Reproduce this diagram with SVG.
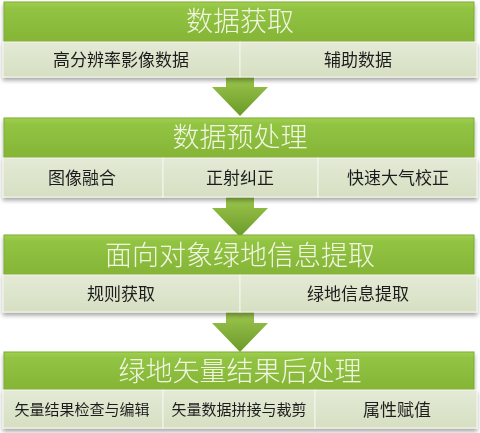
<svg xmlns="http://www.w3.org/2000/svg" width="480" height="433" viewBox="0 0 480 433">
<defs>
<linearGradient id="hdr" x1="0" y1="0" x2="0" y2="1">
<stop offset="0" stop-color="#a2cf52"/>
<stop offset="0.15" stop-color="#92c443"/>
<stop offset="1" stop-color="#85b436"/>
</linearGradient>
<linearGradient id="sub" x1="0" y1="0" x2="0" y2="1">
<stop offset="0" stop-color="#e4ead6"/>
<stop offset="1" stop-color="#d6dfc2"/>
</linearGradient>
<linearGradient id="arr" x1="0" y1="0" x2="0" y2="1">
<stop offset="0" stop-color="#9cc64e"/>
<stop offset="1" stop-color="#6b9a28"/>
</linearGradient>
<filter id="sh" x="-5%" y="-20%" width="110%" height="150%">
<feGaussianBlur in="SourceAlpha" stdDeviation="2"/>
<feOffset dy="3" result="b"/>
<feComponentTransfer><feFuncA type="linear" slope="0.35"/></feComponentTransfer>
<feMerge><feMergeNode/><feMergeNode in="SourceGraphic"/></feMerge>
</filter>
<path id="arrow" d="M226,0 H254 V11 H268 L240,40 L212,11 H226 Z"/>
</defs>
<style>
.hdr{fill:url(#hdr);stroke:#7fab34;stroke-width:1}
.sub{fill:url(#sub);stroke:#f4f7ee;stroke-width:1}
.ht{font-family:"Noto Sans CJK SC","Liberation Sans",sans-serif;font-size:27px;font-weight:300;fill:#f1f6e2;text-anchor:middle}
.st{font-family:"Noto Sans CJK SC","Liberation Sans",sans-serif;font-size:17px;fill:#1e1e1e;text-anchor:middle}
.st2{font-family:"Noto Sans CJK SC","Liberation Sans",sans-serif;font-size:15px;fill:#1e1e1e;text-anchor:middle}
.ar{fill:url(#arr)}
</style>
<g id="connectors">
<use href="#arrow" class="ar" transform="translate(0,76)"/>
<use href="#arrow" class="ar" transform="translate(0,197)"/>
<use href="#arrow" class="ar" transform="translate(0,312)"/>
</g>
<g id="block1" filter="url(#sh)">
<rect class="hdr" x="4" y="2" width="470" height="40"/>
<rect class="sub" x="3" y="42" width="237" height="35"/>
<rect class="sub" x="240" y="42" width="237" height="35"/>
<text class="ht" x="240" y="31">数据获取</text>
<text class="st" x="121" y="66">高分辨率影像数据</text>
<text class="st" x="358" y="66">辅助数据</text>
</g>
<g id="block2" filter="url(#sh)">
<rect class="hdr" x="4" y="118" width="470" height="40"/>
<rect class="sub" x="3" y="158" width="160" height="39"/>
<rect class="sub" x="163" y="158" width="155" height="39"/>
<rect class="sub" x="318" y="158" width="159" height="39"/>
<text class="ht" x="240" y="147">数据预处理</text>
<text class="st" x="82" y="184">图像融合</text>
<text class="st" x="240" y="184">正射纠正</text>
<text class="st" x="398" y="184">快速大气校正</text>
</g>
<g id="block3" filter="url(#sh)">
<rect class="hdr" x="4" y="235" width="470" height="40"/>
<rect class="sub" x="3" y="275" width="237" height="37"/>
<rect class="sub" x="240" y="275" width="237" height="37"/>
<text class="ht" x="240" y="265">面向对象绿地信息提取</text>
<text class="st" x="121" y="300">规则获取</text>
<text class="st" x="358" y="300">绿地信息提取</text>
</g>
<g id="block4" filter="url(#sh)">
<rect class="hdr" x="4" y="352" width="470" height="38"/>
<rect class="sub" x="3" y="390" width="160" height="38"/>
<rect class="sub" x="163" y="390" width="152" height="38"/>
<rect class="sub" x="315" y="390" width="162" height="38"/>
<text class="ht" x="240" y="381">绿地矢量结果后处理</text>
<text class="st2" x="82" y="415">矢量结果检查与编辑</text>
<text class="st2" x="239" y="415">矢量数据拼接与裁剪</text>
<text class="st" x="397" y="416">属性赋值</text>
</g>
</svg>
